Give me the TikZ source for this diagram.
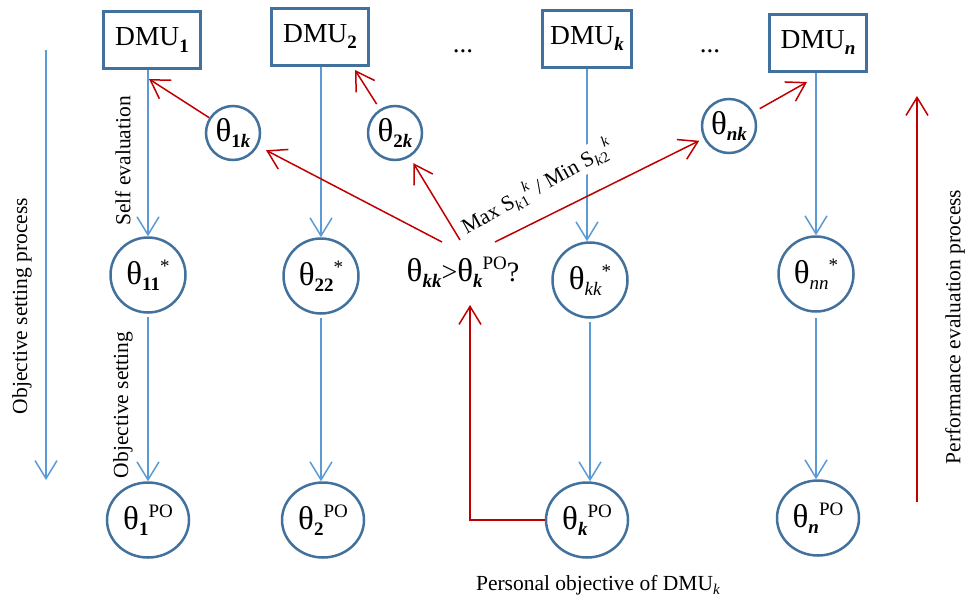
\documentclass[tikz,border=0pt]{standalone}
\usepackage{fontspec}
\setmainfont{Liberation Serif}
\usetikzlibrary{arrows.meta,calc,shapes.geometric}
\definecolor{bord}{HTML}{41719C}
\definecolor{lblue}{HTML}{5B9BD5}
\definecolor{dred}{HTML}{C00000}
\newcommand\mysb[2][19]{\raisebox{-.22em}{\fontsize{#1}{#1}\selectfont #2}}
\newcommand\mysp[2][19]{\raisebox{.42em}{\fontsize{#1}{#1}\selectfont #2}}
\newcommand\bi[1]{\textbf{\textit{#1}}}
\newcommand\thet{{\fontsize{33}{33}\selectfont θ}}
\begin{document}
\begin{tikzpicture}[x=1pt,y=-1pt,
 dmubox/.style={draw=bord,line width=3pt,minimum height=57pt,inner sep=0pt,font=\fontsize{27.5}{30}\selectfont},
 bigc/.style={draw=bord,line width=2.5pt,circle,minimum size=75pt,inner sep=0pt,font=\fontsize{28}{30}\selectfont},
 smallc/.style={draw=bord,line width=2.5pt,circle,minimum size=54pt,inner sep=0pt,font=\fontsize{28}{30}\selectfont},
 poc/.style={draw=bord,line width=2.5pt,ellipse,minimum width=82pt,minimum height=75pt,inner sep=0pt,font=\fontsize{28}{30}\selectfont},
 barrow/.style={draw=lblue,line width=1.5pt,-{Straight Barb[length=18pt,width=22pt]}},
 rarrow/.style={draw=dred,line width=1.5pt,-{Straight Barb[length=18pt,width=22pt]}},
 lab/.style={font=\fontsize{21.5}{24}\selectfont,inner sep=1pt}]
\useasboundingbox (0,0) rectangle (973,600);

% top boxes
\node[dmubox,minimum width=97pt] (d1) at (152,40) {DMU\mysb{\textbf{1}}};
\node[dmubox,minimum width=97pt] (d2) at (320,36.5) {DMU\mysb{\textbf{2}}};
\node[dmubox,minimum width=89pt] (dk) at (587,38.5) {DMU\mysb{\bi{k}}};
\node[dmubox,minimum width=97pt] (dn) at (818,42.5) {DMU\mysb{\bi{n}}};
\node[font=\fontsize{27}{30}\selectfont,anchor=base] (e1) at (463,52) {...};
\node[font=\fontsize{27}{30}\selectfont,anchor=base] (e2) at (710,52) {...};

% small circles
\node[smallc] (t1k) at (233,133) {\thet\mysb{\textbf{1}\bi{k}}};
\node[smallc] (t2k) at (395,133) {\thet\mysb{\textbf{2}\bi{k}}};
\node[smallc] (tnk) at (729,126) {\thet\mysb{\bi{nk}}};

% middle circles
\node[bigc] (t11) at (148,275) {\thet\mysb{\textbf{11}}\mysp{*}};
\node[bigc] (t22) at (321,276) {\thet\mysb{\textbf{22}}\mysp{*}};
\node[bigc] (tkk) at (590,280) {\thet\mysb{\textit{kk}}\mysp{*}};
\node[bigc] (tnn) at (816,274) {\thet\mysb{\textit{nn}}\mysp{*}};

% bottom ellipses
\node[poc] (p1) at (148,520) {\thet\mysb{\textbf{1}}\mysp{PO}};
\node[poc] (p2) at (323,520) {\thet\mysb{\textbf{2}}\mysp{PO}};
\node[poc] (pk) at (587,520) {\thet\mysb{\bi{k}}\mysp{PO}};
\node[poc] (pn) at (818,518) {\thet\mysb{\bi{n}}\mysp{PO}};

% question
\node[font=\fontsize{28}{30}\selectfont,inner sep=0pt] (q) at (463,272) {\thet\mysb{\bi{kk}}>\thet\mysb{\bi{k}}\mysp{PO}?};

% blue connectors
\draw[barrow] (d1.south -| t11.north) -- (t11.north);
\draw[barrow] (d2.south -| t22.north) -- (t22.north);
\draw[barrow] (dk.south) -- (dk.south |- tkk.north);
\draw[barrow] (dn.south -| tnn.north) -- (tnn.north);
\draw[barrow,shorten <=3pt] (t11.south) -- (p1.north);
\draw[barrow,shorten <=3pt] (t22.south) -- (t22.south |- p2.north);
\draw[barrow,shorten <=3pt] (tkk.south) -- (tkk.south |- pk.north);
\draw[barrow,shorten <=5pt] (tnn.south) -- (tnn.south |- pn.north);

% side arrows
\coordinate (ls) at (46,50);
\coordinate (le) at (46,480);
\draw[barrow] (ls) -- (le);
\coordinate (rs) at (917,502);
\coordinate (re) at (917,96);
\draw[rarrow] (rs) -- (re);

% red connectors
\coordinate (qa) at (442,242);
\coordinate (qb) at (460,240);
\coordinate (qc) at (495,242);
\draw[rarrow,shorten >=9pt] (qa) -- (t1k);
\draw[rarrow,shorten >=7pt] (qb) -- (t2k);
\draw[rarrow,shorten >=5pt] (qc) -- (tnk);
\coordinate (a1) at (149,79);
\coordinate (a2) at (355,70);
\coordinate (an) at (807,82);
\draw[rarrow] (t1k) -- (a1);
\draw[rarrow,shorten <=6pt] (t2k) -- (a2);
\draw[rarrow,shorten <=7pt] (tnk) -- (an);
\coordinate (up) at (470,305);
\draw[rarrow] (pk.west) -| (up);

% labels
\node[lab,rotate=90] (l1) at (22,306) {Objective setting process};
\node[lab,rotate=90] (l2) at (955,327) {Performance evaluation process};
\node[lab,rotate=90] (l3) at (123,161) {Self evaluation};
\node[lab,rotate=90] (l4) at (123,405) {Objective setting};
\node[lab] (l5) at (598,585) {Personal objective of DMU\mysb[15]{\textit{k}}};
\node[lab,rotate=29,fill=white] (l6) at (537,187) {Max S\mysb[15]{\textit{k}1}\mysp[15]{\textit{k}} / Min S\mysb[15]{\textit{k}2}\mysp[15]{\textit{k}}};
\end{tikzpicture}
\end{document}
